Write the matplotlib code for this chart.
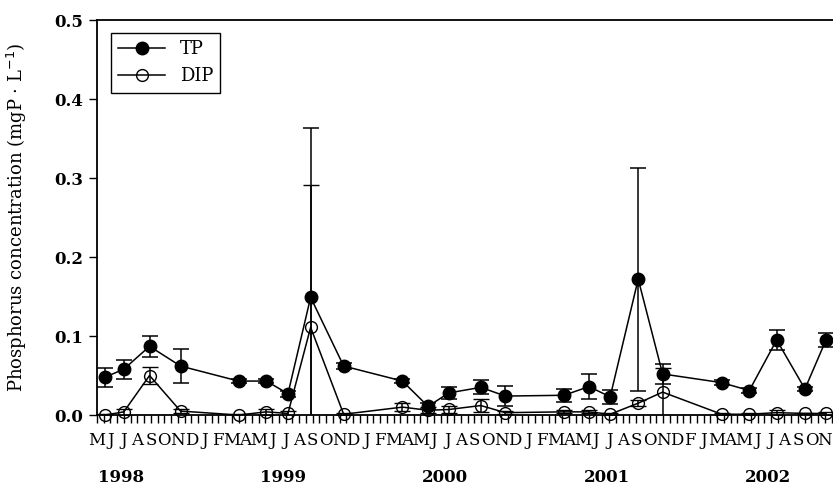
import matplotlib
matplotlib.use("Agg")
import matplotlib.pyplot as plt
from matplotlib.lines import Line2D
from matplotlib.ticker import MultipleLocator

plt.rcParams["font.family"] = "DejaVu Serif"

# sampling time, months after 1 May 1998
sample_month = [0.61, 1.99, 3.9, 6.2, 10.5, 12.56, 14.17, 15.85, 18.3, 22.66, 24.56, 26.1,
                28.47, 30.3, 34.65, 36.5, 38.07, 40.15, 41.96, 46.34, 48.39, 50.42, 52.52, 54.08]

# total phosphorus (mgP/L) and standard deviation
tp = [0.048, 0.058, 0.087, 0.062, 0.043, 0.043, 0.027, 0.149, 0.062, 0.043, 0.011, 0.028,
      0.035, 0.024, 0.025, 0.036, 0.023, 0.172, 0.052, 0.041, 0.031, 0.095, 0.033, 0.095]
tp_sd = [0.012, 0.012, 0.013, 0.021, 0.002, 0.003, 0.004, 0.214, 0.004, 0.003, 0.004, 0.008,
         0.009, 0.013, 0.008, 0.016, 0.009, 0.141, 0.013, 0.003, 0.003, 0.013, 0.002, 0.009]

# dissolved inorganic phosphorus (mgP/L) and standard deviation
dip = [0.000, 0.004, 0.050, 0.005, 0.000, 0.004, 0.002, 0.111, 0.001, 0.010, 0.006, 0.007,
       0.012, 0.003, 0.004, 0.004, 0.001, 0.015, 0.029, 0.001, 0.001, 0.003, 0.002, 0.002]
dip_sd = [0.001, 0.004, 0.011, 0.003, 0.001, 0.004, 0.003, 0.180, 0.001, 0.005, 0.004, 0.005,
          0.008, 0.002, 0.002, 0.002, 0.001, 0.004, 0.031, 0.001, 0.001, 0.003, 0.001, 0.002]

month_labels = (list("MJJASOND") + list("JFMAMJJASOND") * 3 + list("FJMAMJJASON"))
years = ["1998", "1999", "2000", "2001", "2002"]
year_pos = [1.8, 13.8, 25.8, 37.8, 49.8]

fig = plt.figure(figsize=(8.33, 4.87), dpi=100)
ax = fig.add_axes([0.1164, 0.1478, 0.8836, 0.811])

dip_plot = ax.errorbar(sample_month, dip, yerr=dip_sd, fmt="-o", color="black", mfc="none",
                       ms=8.5, mew=1, lw=1.1, elinewidth=1.1, capsize=5.5, capthick=1.1)
tp_plot = ax.errorbar(sample_month, tp, yerr=tp_sd, fmt="-o", color="black", ms=9,
                      lw=1.1, elinewidth=1.1, capsize=5.5, capthick=1.1)
# keep markers sitting on the x axis fully visible
dip_plot[0].set_clip_on(False)
tp_plot[0].set_clip_on(False)

ax.set_xlim(0, 54.6)
ax.set_ylim(0, 0.5)

ax.set_xticks(range(len(month_labels)))
ax.set_xticklabels(month_labels, fontsize=12)
ax.xaxis.set_minor_locator(MultipleLocator(0.5))
ax.tick_params(axis="x", which="both", direction="out", length=6, width=1, pad=6)
ax.set_yticks([0.0, 0.1, 0.2, 0.3, 0.4, 0.5])
ax.set_yticklabels(["0.0", "0.1", "0.2", "0.3", "0.4", "0.5"], fontsize=12, fontweight="bold")
ax.tick_params(axis="y", direction="out", length=6, width=1, pad=4)

for yr, pos in zip(years, year_pos):
    ax.text(pos, -0.157, yr, transform=ax.get_xaxis_transform(), ha="center", va="center",
            fontsize=12, fontweight="bold")

ax.set_ylabel("Phosphorus concentration (mgP $\\cdot$ L$^{-1}$)", fontsize=13)
ax.yaxis.set_label_coords(-0.092, 0.5)

ax.spines["right"].set_visible(False)
for side in ["left", "bottom", "top"]:
    ax.spines[side].set_linewidth(1.3)

# legend without the error bars
handles = [Line2D([], [], color="black", marker="o", ms=9, lw=1.1),
           Line2D([], [], color="black", marker="o", mfc="none", ms=8.5, lw=1.1)]
leg = ax.legend(handles, ["TP", "DIP"], loc="upper left",
                bbox_to_anchor=(0.019, 0.967), borderaxespad=0, fontsize=13,
                fancybox=False, framealpha=1, edgecolor="black", handlelength=2.6)
leg.get_frame().set_linewidth(1)

fig.savefig("out.png", dpi=100)
